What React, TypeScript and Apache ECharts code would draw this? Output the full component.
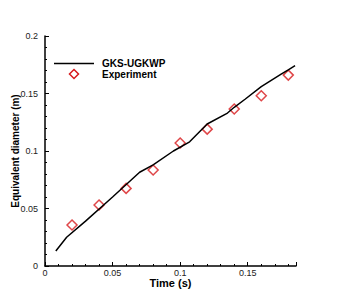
import React, { useEffect, useRef } from "react";
import * as echarts from "echarts";

const lineT = [0.008, 0.016, 0.03, 0.05, 0.07, 0.08, 0.095, 0.107, 0.12, 0.135, 0.14, 0.148, 0.16, 0.175, 0.18, 0.185];
const lineD = [0.013, 0.025, 0.039, 0.06, 0.0815, 0.088, 0.1, 0.108, 0.1235, 0.133, 0.138, 0.145, 0.156, 0.167, 0.1705, 0.1742];
const expT = [0.02, 0.04, 0.06, 0.08, 0.1, 0.12, 0.14, 0.16, 0.18];
const expD = [0.0357, 0.053, 0.0675, 0.0835, 0.107, 0.119, 0.1365, 0.148, 0.166];
const xTicks = [0, 0.05, 0.1, 0.15];
const yTicks = [0, 0.05, 0.1, 0.15, 0.2];
const seriesNames = ["GKS-UGKWP", "Experiment"];

export default function App() {
  const ref = useRef<HTMLDivElement>(null);
  useEffect(() => {
    const chart = echarts.init(ref.current!, null, { renderer: "svg" });
    const font = "'Liberation Sans', Arial, sans-serif";
    const red = "#d7191c";
    const fmt = (list: number[]) => (v: number) => {
      const m = list.find((t) => Math.abs(t - v) < 1e-9);
      return m === undefined ? "" : String(m);
    };
    chart.setOption({
      animation: false,
      backgroundColor: "#fff",
      grid: { left: 45, right: 41, top: 36, bottom: 34, outerBoundsMode: "none", containLabel: false },
      graphic: [
        { type: "line", shape: { x1: 54, y1: 63.5, x2: 94, y2: 63.5 }, style: { stroke: "#000", lineWidth: 1.5 } },
        {
          type: "polygon",
          shape: { points: [[74, 69.5], [78.5, 74], [74, 78.5], [69.5, 74]] },
          style: { fill: "#fff", stroke: red, lineWidth: 1.5 },
        },
        { type: "text", left: 102, top: 58, style: { text: seriesNames[0], font: `bold 10px ${font}`, fill: "#000" } },
        { type: "text", left: 102, top: 69, style: { text: seriesNames[1], font: `bold 10px ${font}`, fill: "#000" } },
      ],
      xAxis: {
        type: "value",
        min: 0,
        max: 0.1857,
        interval: 0.05,
        name: "Time (s)",
        nameLocation: "middle",
        nameGap: 11,
        nameMoveOverlap: false,
        nameTextStyle: { fontFamily: font, fontWeight: "bold", fontSize: 11, color: "#000" },
        axisLine: { lineStyle: { color: "#000", width: 1.5 } },
        axisTick: { inside: true, length: 4, lineStyle: { color: "#000" } },
        minorTick: { show: true, splitNumber: 5, length: 2, lineStyle: { color: "#000" } },
        splitLine: { show: false },
        axisLabel: { fontFamily: font, fontSize: 9, color: "#222", margin: 2, formatter: fmt(xTicks), showMaxLabel: false },
      },
      yAxis: {
        type: "value",
        min: 0,
        max: 0.2,
        interval: 0.05,
        name: "Equivalent diameter (m)",
        nameLocation: "middle",
        nameGap: 25,
        nameMoveOverlap: false,
        nameTextStyle: { fontFamily: font, fontWeight: "bold", fontSize: 10, color: "#000" },
        axisLine: { show: true, lineStyle: { color: "#000", width: 1.5 } },
        axisTick: { show: true, inside: true, length: 4, lineStyle: { color: "#000" } },
        minorTick: { show: true, splitNumber: 5, length: 2, lineStyle: { color: "#000" } },
        splitLine: { show: false },
        axisLabel: { fontFamily: font, fontSize: 9, color: "#222", margin: 7, formatter: fmt(yTicks) },
      },
      series: [
        {
          name: seriesNames[0],
          type: "line",
          data: lineT.map((t, i) => [t, lineD[i]]),
          showSymbol: false,
          symbol: "none",
          lineStyle: { color: "#000", width: 1.5 },
          itemStyle: { color: "#000" },
        },
        {
          name: seriesNames[1],
          type: "scatter",
          data: expT.map((t, i) => [t, expD[i]]),
          symbol: "diamond",
          symbolSize: 10,
          itemStyle: { color: "#fff", borderColor: red, borderWidth: 1.5 },
        },
      ],
    });
    return () => chart.dispose();
  }, []);
  return <div ref={ref} style={{ width: 337, height: 300, position: "absolute", left: 0, top: 0 }} />;
}
